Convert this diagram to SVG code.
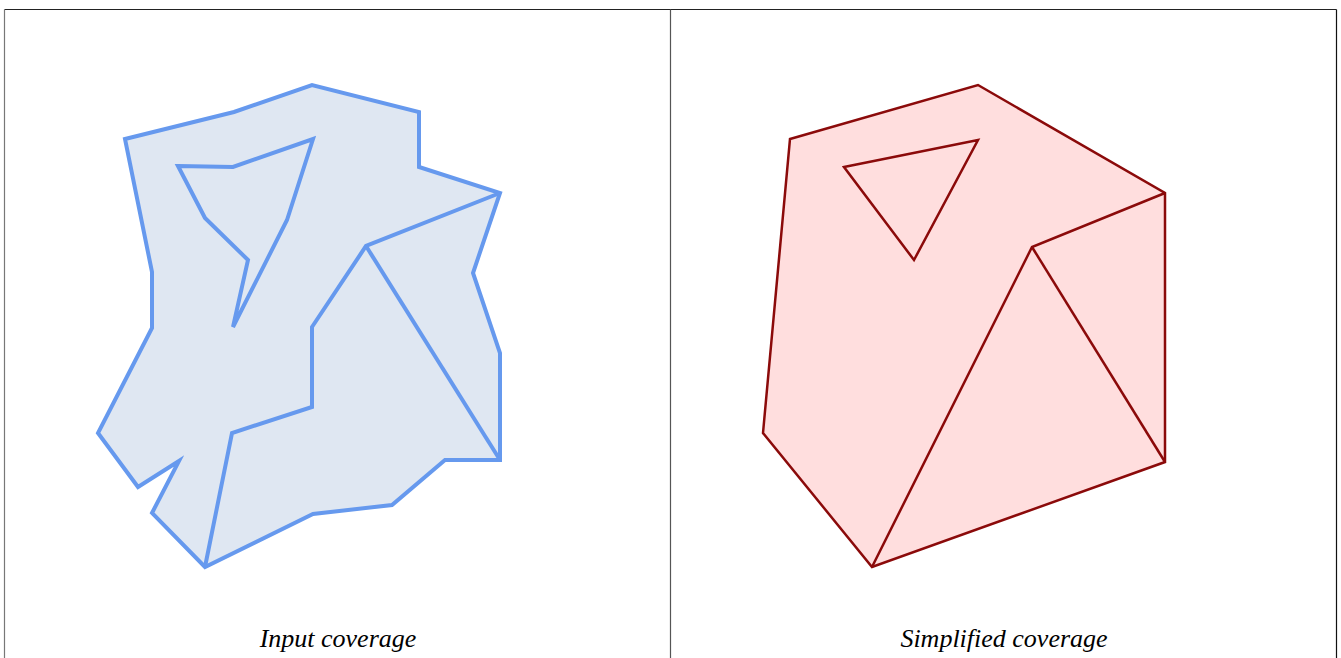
<svg xmlns="http://www.w3.org/2000/svg" width="1341" height="658" viewBox="0 0 1341 658">
<style>
.frame{stroke:#333;stroke-width:1.2;fill:none}
.inp{fill:#dfe7f2;stroke:#6699ee;stroke-width:4;stroke-linejoin:miter}
.inpl{fill:none;stroke:#6699ee;stroke-width:4;stroke-linejoin:miter}
.sim{fill:#ffdede;stroke:#8b0a0a;stroke-width:2.5}
.siml{fill:none;stroke:#8b0a0a;stroke-width:2.5}
.cap{font-family:"Liberation Serif",serif;font-style:italic;font-size:26px;fill:#000;text-anchor:middle}
</style>
<rect width="1341" height="658" fill="#fff"/>
<g id="frame">
<line class="frame" x1="4.5" y1="9.5" x2="1336.5" y2="9.5" style="stroke:#222"/>
<line class="frame" x1="4.5" y1="9.5" x2="4.5" y2="658" style="stroke:#777"/>
<line class="frame" x1="670.5" y1="9.5" x2="670.5" y2="658" style="stroke:#555"/>
<line class="frame" x1="1336.5" y1="9.5" x2="1336.5" y2="658" style="stroke:#111"/>
</g>
<g id="input-coverage">
<path class="inp" d="M125,139 L234,112 L312,85 L419,112 L419,167 L500,193 L473,273 L500,353 L500,460 L445,460 L392,505 L313,514 L205,567 L152,513 L179,461 L138,487 L98,433 L152,328 L152,272 Z"/>
<path class="inpl" d="M178,166 L233,167 L313,139 L287,220 L233,327 L248,260 L205,218 Z"/>
<polyline class="inpl" points="500,193 366,246 312,327 312,407 232,433 205,567"/>
<line class="inpl" x1="366" y1="246" x2="500" y2="460"/>
</g>
<g id="simplified-coverage">
<path class="sim" d="M790,139 L978,85 L1165,193 L1165,462 L872,567 L763,433 Z"/>
<path class="siml" d="M844,167 L978,140 L914,260 Z"/>
<polyline class="siml" points="1165,193 1032,247 872,567"/>
<line class="siml" x1="1032" y1="247" x2="1165" y2="462"/>
</g>
<g id="captions">
<text class="cap" x="338" y="647">Input coverage</text>
<text class="cap" x="1004" y="647">Simplified coverage</text>
</g>
</svg>
